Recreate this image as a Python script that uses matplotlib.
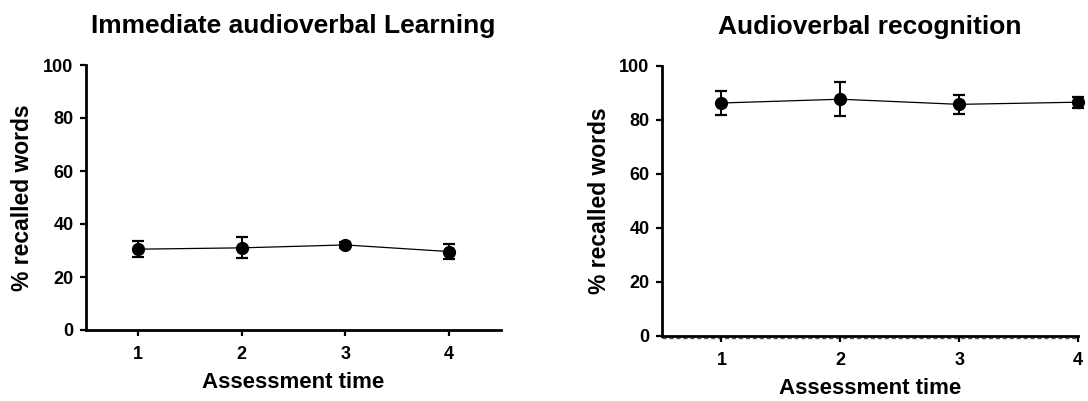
import matplotlib
matplotlib.use("Agg")
import matplotlib.pyplot as plt

plt.rcParams['font.family'] = ['Liberation Sans', 'DejaVu Sans']
plt.rcParams['font.weight'] = 'bold'

# Data: mean and error (SEM) at each assessment time
times = [1, 2, 3, 4]
learning_mean = [30.5, 31.0, 32.1, 29.6]
learning_err = [2.9, 4.0, 1.2, 2.7]
recog_mean = [86.2, 87.6, 85.7, 86.5]
recog_err = [4.6, 6.2, 3.5, 2.0]

titles = ["Immediate audioverbal Learning", "Audioverbal recognition"]
xlabel = "Assessment time"
ylabel = "% recalled words"
yticks = [0, 20, 40, 60, 80, 100]

W, H = 1088, 401
fig = plt.figure(figsize=(W / 100, H / 100), dpi=100)

# axes rectangles in pixels: left, right, top, bottom
boxes = [(86, 501, 65, 330), (662, 1078, 65.7, 336)]
xlims = [(0.5, 4.5), (0.5, 4.0)]
series = [(learning_mean, learning_err), (recog_mean, recog_err)]

for i, ((l, r, t, b), xl, (m, e), title) in enumerate(zip(boxes, xlims, series, titles)):
    ax = fig.add_axes([l / W, (H - b) / H, (r - l) / W, (b - t) / H])
    ax.errorbar(times, m, yerr=e, color='black', lw=0.9, marker='o', ms=8.5,
                elinewidth=1.4, capsize=4, capthick=1.6, clip_on=False, zorder=3)
    ax.set_xlim(*xl)
    ax.set_ylim(0, 100)
    ax.set_xticks(times)
    ax.set_yticks(yticks)
    for s in ['top', 'right']:
        ax.spines[s].set_visible(False)
    for s in ['left', 'bottom']:
        ax.spines[s].set_linewidth(2.0)
    ax.tick_params(axis='both', length=4.5, width=1.6, labelsize=13, pad=4.5)
    ax.tick_params(axis='x', pad=7)
    ax.set_title(title, fontsize=19, fontweight='bold', pad=23)
    ax.set_xlabel(xlabel, fontsize=16, fontweight='bold', labelpad=6.5)
    ax.set_ylabel(ylabel, fontsize=16.5, fontweight='bold')
    ax.yaxis.set_label_coords(-0.125 if i == 0 else -0.122, 0.5)
    if i == 1:
        # dashed zero reference line beneath the x axis
        ax.axhline(-0.9, color='#555555', lw=1.0, ls=(0, (3, 2)), clip_on=False, zorder=1)

fig.savefig("out.png", dpi=100)
